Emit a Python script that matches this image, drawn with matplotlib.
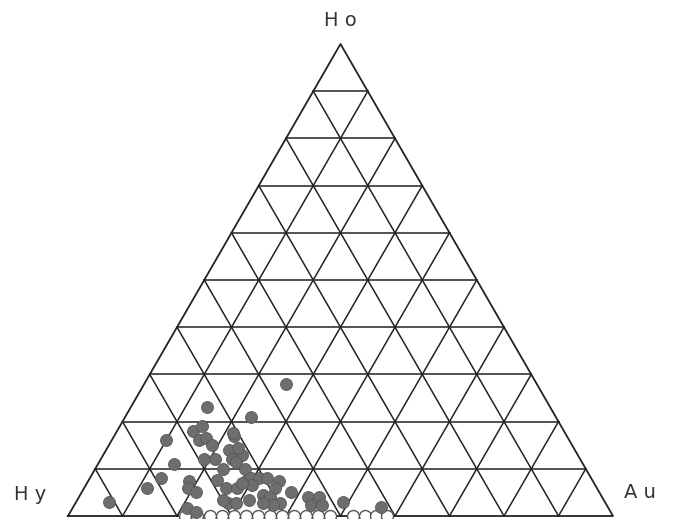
import numpy as np
import matplotlib.pyplot as plt

# Composition in percent (Ho, Au); Hy = 100 - Ho - Au
ho_pts = [28, 23, 21, 16, 11, 8, 6, 3, 18, 19, 16, 16.5, 15, 12, 12,
          7.5, 6, 5, 7.6, 6, 17, 14, 12.5, 13, 10, 7.6, 6, 2.8, 2.8,
          1.7, 0.8, 17.5, 14.5, 12, 10, 8, 8, 8, 7.5, 6.5, 6, 4.5, 4,
          2.8, 5, 4, 4, 2.3, 2.3, 3, 2, 3.4, 11.5, 3.4, 7, 2.3, 2.8]
au_pts = [26, 14, 23, 10, 14, 13, 11.5, 6, 14, 15, 16, 17, 19, 19, 21,
          18.5, 19, 21, 23.5, 26, 22, 22.5, 25, 25.5, 23.5, 29, 28, 28, 29.5,
          21, 23, 21.5, 24, 24, 27.5, 29.5, 31, 32.5, 35, 30.5, 35, 33.5, 35,
          37.5, 38.5, 42, 44, 43.5, 45.5, 49, 56.5, 31.5, 25, 26.7, 28.5, 36.5, 34.4]

# samples with Ho = 0 (open symbols on the base)
au_base = [21.5, 23.7, 26, 28.3, 30.5, 32.7, 34.9, 37.1, 39.3, 41.5,
           43.7, 45.9, 48.1, 52.3, 54.5, 56.5, 58.5]

labels = ['H o', 'H y', 'A u']


def tern(ho, au):
    ho = np.asarray(ho) / 100.0
    au = np.asarray(au) / 100.0
    return au + ho / 2, ho * np.sqrt(3) / 2


fig = plt.figure(figsize=(6.79, 5.19), dpi=100)
ax = fig.add_axes([0, 0, 1, 1])
ax.set_xlim(-68 / 545, (679 - 68) / 545)
ax.set_ylim(-3 / 545, 516 / 545)
ax.axis('off')

lc = '#222222'
lw = 1.1
# outline
ox, oy = tern([0, 0, 100, 0], [0, 100, 0, 0])
ax.plot(ox, oy, color=lc, lw=1.3)
# grid lines every 10 %
for v in range(10, 100, 10):
    # constant Ho
    x, y = tern([v, v], [0, 100 - v])
    ax.plot(x, y, color=lc, lw=lw)
    # constant Au
    x, y = tern([0, 100 - v], [v, v])
    ax.plot(x, y, color=lc, lw=lw)
    # constant Hy
    x, y = tern([0, 100 - v], [100 - v, 0])
    ax.plot(x, y, color=lc, lw=lw)

bx, by = tern(np.zeros(len(au_base)), au_base)
ax.plot(bx, by, 'o', ms=8.6, mfc='white', mec='#555555', mew=1.0,
        clip_on=False, zorder=3)

px, py = tern(ho_pts, au_pts)
ax.plot(px, py, 'o', ms=8.6, mfc='#6e6e6e', mec='#585858', mew=0.6,
        clip_on=False, zorder=4)

tc = '#333333'
ax.text(0.5, 496 / 545, labels[0], ha='center', va='center',
        fontsize=14, color=tc)
ax.text(-38 / 545, 22 / 545, labels[1], ha='center', va='center',
        fontsize=14, color=tc)
ax.text((640 - 68) / 545, 24 / 545, labels[2], ha='center', va='center',
        fontsize=14, color=tc)

fig.savefig('out.png', dpi=100)
